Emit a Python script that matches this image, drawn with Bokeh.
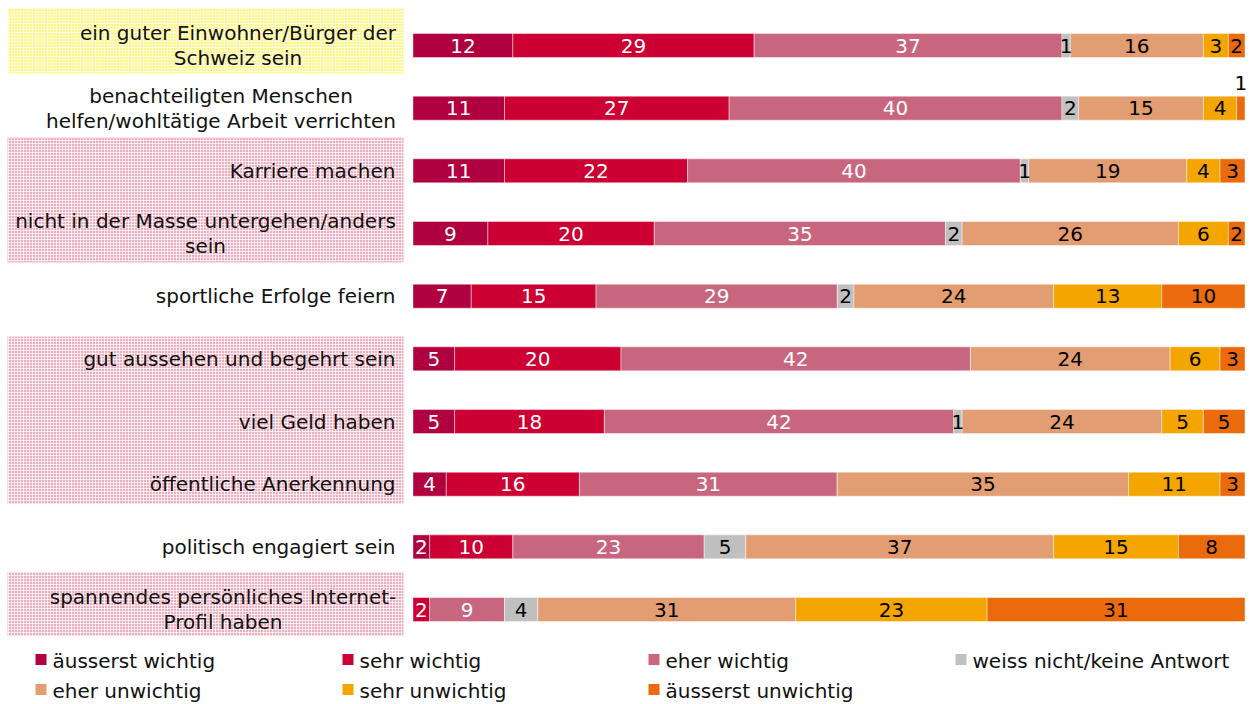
import numpy as np
from bokeh.plotting import figure
from bokeh.models import ColumnDataSource, Range1d
from bokeh.core.properties import value
from bokeh.embed import file_html
from bokeh.resources import INLINE

# ---------------- data ----------------
categories = [
    "ein guter Einwohner/Bürger der\nSchweiz sein",
    "benachteiligten Menschen\nhelfen/wohltätige Arbeit verrichten",
    "Karriere machen",
    "nicht in der Masse untergehen/anders\nsein",
    "sportliche Erfolge feiern",
    "gut aussehen und begehrt sein",
    "viel Geld haben",
    "öffentliche Anerkennung",
    "politisch engagiert sein",
    "spannendes persönliches Internet-\nProfil haben",
]
series_names = [
    "äusserst wichtig", "sehr wichtig", "eher wichtig",
    "weiss nicht/keine Antwort", "eher unwichtig", "sehr unwichtig",
    "äusserst unwichtig",
]
aeusserst_wichtig   = [12, 11, 11, 9, 7, 5, 5, 4, 2, 0]
sehr_wichtig        = [29, 27, 22, 20, 15, 20, 18, 16, 10, 2]
eher_wichtig        = [37, 40, 40, 35, 29, 42, 42, 31, 23, 9]
weiss_nicht         = [1, 2, 1, 2, 2, 0, 1, 0, 5, 4]
eher_unwichtig      = [16, 15, 19, 26, 24, 24, 24, 35, 37, 31]
sehr_unwichtig      = [3, 4, 4, 6, 13, 6, 5, 11, 15, 23]
aeusserst_unwichtig = [2, 1, 3, 2, 10, 3, 5, 3, 8, 31]

series_values = [aeusserst_wichtig, sehr_wichtig, eher_wichtig, weiss_nicht,
                 eher_unwichtig, sehr_unwichtig, aeusserst_unwichtig]

# ---------------- styles ----------------
colors = ["#B0003F", "#CC0033", "#C9667F", "#C0C0C0", "#E39D72", "#F5A500", "#EB6A0C"]
label_colors = ["white", "white", "white", "black", "black", "black", "black"]
FONT = value("DejaVu Sans")

W, H = 1253, 704
BAR_X0, PX_PER_PCT = 412.5, 8.32
ROW0_PX, ROW_STEP = 45.0, 62.67
LABEL_RIGHT_PX = 395
# horizontal centre (px) of multi-line label blocks (lines are centred within block)
block_center_px = {0: 237.5, 1: 220.5, 3: 205.0, 9: 222.5}

def px2x(px):
    return (px - BAR_X0) / PX_PER_PCT

def px2y(py):
    return (py - ROW0_PX) / ROW_STEP

p = figure(width=W, height=H, output_backend="svg", toolbar_location=None,
           x_range=Range1d(px2x(0), px2x(W)), y_range=Range1d(px2y(H), px2y(0)),
           min_border=0, outline_line_color=None)
p.axis.visible = False
p.grid.visible = False
p.background_fill_color = "white"
p.border_fill_color = "white"

# ---------------- label backgrounds ----------------
bg_boxes = [  # (left, top, right, bottom) px, fill
    (8, 8, 403, 73, "#FFF77E"),
    (7, 137, 403, 262, "#EDAEC0"),
    (7, 336, 403, 503, "#EDAEC0"),
    (7, 572, 403, 635, "#EDAEC0"),
]
for l, t, r, b, c in bg_boxes:
    p.quad(left=px2x(l), right=px2x(r), top=px2y(t), bottom=px2y(b),
           fill_color=c, line_color=None,
           hatch_pattern="+", hatch_color="white", hatch_alpha=0.7,
           hatch_scale=3, hatch_weight=1)

# ---------------- bars ----------------
ys = list(range(len(categories)))
keys = [f"s{i}" for i in range(len(series_names))]
src = ColumnDataSource(dict(y=ys, **{k: v for k, v in zip(keys, series_values)}))
bar_h = 24 / ROW_STEP
p.hbar_stack(keys, y="y", height=bar_h, color=colors, source=src,
             line_color="white", line_width=0.8, line_alpha=0.55)

# value labels
vals = np.array(series_values, dtype=float)  # series x rows
cum = np.cumsum(vals, axis=0)
starts = cum - vals
tx, ty, tt, tc = [], [], [], []
n_series = len(series_names)
for s in range(n_series):
    for r in range(len(categories)):
        v = vals[s, r]
        if v <= 0:
            continue
        cx = starts[s, r] + v / 2
        cy = r
        if s == n_series - 1 and v <= 1:
            cy = r - 25 / ROW_STEP
            col = "black"
        else:
            col = label_colors[s]
        tx.append(cx); ty.append(cy); tt.append(str(int(v))); tc.append(col)
p.text(x=tx, y=ty, text=tt, text_color=tc, text_align="center",
       text_baseline="middle", text_font=FONT, text_font_size="20px")

# category labels
rx, ry, rt = [], [], []   # single-line, right-aligned
cx_, cy_, ct_ = [], [], []  # multi-line, centred within block
line_h = 25 / ROW_STEP
for r, cat in enumerate(categories):
    lines = cat.split("\n")
    n = len(lines)
    for k, ln in enumerate(lines):
        yy = r + (k - (n - 1) / 2) * line_h
        if n == 1:
            rx.append(px2x(LABEL_RIGHT_PX)); ry.append(yy); rt.append(ln)
        else:
            cx_.append(px2x(block_center_px[r])); cy_.append(yy); ct_.append(ln)
p.text(x=rx, y=ry, text=rt, text_color="#111111", text_align="right",
       text_baseline="middle", text_font=FONT, text_font_size="20px")
p.text(x=cx_, y=cy_, text=ct_, text_color="#111111", text_align="center",
       text_baseline="middle", text_font=FONT, text_font_size="20px")

# ---------------- legend ----------------
col_sq_px = [35, 342, 648, 955]
row_px = [660, 690]
sq = 11
for i, name in enumerate(series_names):
    rr, cc = divmod(i, 4)
    sx = col_sq_px[cc]
    sy = row_px[rr]
    p.quad(left=px2x(sx), right=px2x(sx + sq), top=px2y(sy - sq / 2 - 1),
           bottom=px2y(sy + sq / 2 - 1), fill_color=colors[i], line_color=None)
    p.text(x=[px2x(sx + 17)], y=[px2y(sy)], text=[name], text_color="#111111",
           text_align="left", text_baseline="middle", text_font=FONT,
           text_font_size="20px")

open("out.html", "w").write(file_html(p, INLINE))
